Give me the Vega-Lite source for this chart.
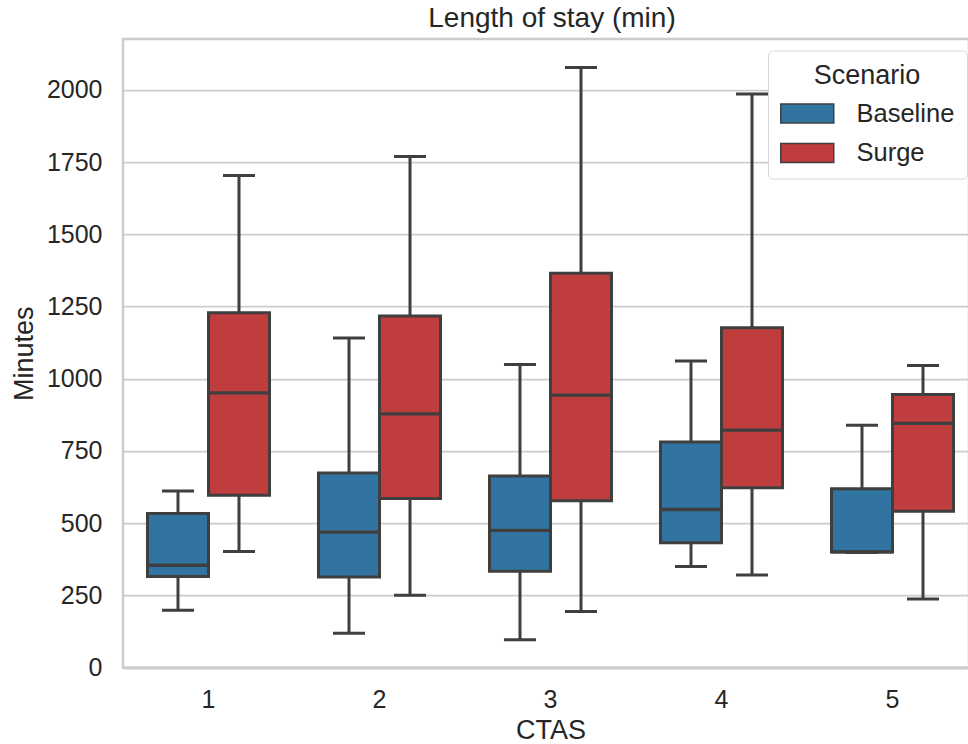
{
  "$schema": "https://vega.github.io/schema/vega-lite/v6.json",
  "autosize": "none",
  "padding": {"left": 123, "top": 39, "right": 0, "bottom": 76.5},
  "width": 846,
  "height": 628.5,
  "background": "white",
  "title": {"text": "Length of stay (min)", "fontSize": 28, "font": "Liberation Sans", "fontWeight": "normal", "color": "#262626", "frame": "group", "anchor": "middle", "dx": 6, "baseline": "alphabetic", "offset": 10, "dy": 26},
  "config": {
    "view": {"stroke": "#cccccc", "strokeWidth": 2.5},
    "font": "Liberation Sans"
  },
  "data": {"values": [
    {"CTAS": "1", "Scenario": "Baseline", "min": 198, "q1": 315, "median": 354, "q3": 533, "max": 611},
    {"CTAS": "1", "Scenario": "Surge", "min": 402, "q1": 596, "median": 951, "q3": 1228, "max": 1703},
    {"CTAS": "2", "Scenario": "Baseline", "min": 119, "q1": 313, "median": 469, "q3": 673, "max": 1141},
    {"CTAS": "2", "Scenario": "Surge", "min": 250, "q1": 585, "median": 878, "q3": 1217, "max": 1769},
    {"CTAS": "3", "Scenario": "Baseline", "min": 96, "q1": 333, "median": 475, "q3": 663, "max": 1049},
    {"CTAS": "3", "Scenario": "Surge", "min": 194, "q1": 577, "median": 943, "q3": 1365, "max": 2077},
    {"CTAS": "4", "Scenario": "Baseline", "min": 350, "q1": 432, "median": 547, "q3": 781, "max": 1061},
    {"CTAS": "4", "Scenario": "Surge", "min": 320, "q1": 622, "median": 822, "q3": 1176, "max": 1986},
    {"CTAS": "5", "Scenario": "Baseline", "min": 398, "q1": 400, "median": 400, "q3": 619, "max": 839},
    {"CTAS": "5", "Scenario": "Surge", "min": 237, "q1": 541, "median": 845, "q3": 945, "max": 1046}
  ]},
  "encoding": {
    "x": {
      "field": "CTAS", "type": "ordinal",
      "scale": {"range": [0, 855], "paddingInner": 0.2865, "paddingOuter": 0.14325},
      "axis": {"title": "CTAS", "labelAngle": 0, "ticks": false, "tickSize": 0, "domain": false, "grid": false,
        "labelFontSize": 25, "labelColor": "#262626", "labelPadding": 19.5,
        "titleFontSize": 27, "titleFontWeight": "normal", "titleColor": "#262626", "titlePadding": 5}
    },
    "xOffset": {"field": "Scenario", "type": "nominal", "scale": {"paddingInner": 0, "paddingOuter": 0}}
  },
  "layer": [
    {
      "mark": {"type": "rule", "color": "#3f3f3f", "strokeWidth": 3},
      "encoding": {
        "y": {"field": "min", "type": "quantitative",
          "scale": {"domain": [0, 2176], "nice": false, "zero": true},
          "axis": {"title": "Minutes", "values": [0, 250, 500, 750, 1000, 1250, 1500, 1750, 2000], "format": "d",
            "grid": true, "gridColor": "#cccccc", "gridWidth": 1.75, "domain": false, "ticks": false, "tickSize": 0,
            "labelFontSize": 25, "labelColor": "#262626", "labelPadding": 21,
            "titleFontSize": 27, "titleFontWeight": "normal", "titleColor": "#262626", "titlePadding": 8}},
        "y2": {"field": "max"}
      }
    },
    {
      "mark": {"type": "bar", "stroke": "#3f3f3f", "strokeWidth": 3},
      "encoding": {
        "y": {"field": "q1", "type": "quantitative"},
        "y2": {"field": "q3"},
        "fill": {"field": "Scenario", "type": "nominal",
          "scale": {"domain": ["Baseline", "Surge"], "range": ["#3274a1", "#c03d3e"]},
          "legend": {"orient": "none", "legendX": 645, "legendY": 11.5, "title": "Scenario",
            "titleFontSize": 27, "titleFontWeight": "normal", "titleColor": "#262626", "titleAnchor": "middle",
            "labelFontSize": 25.5, "labelColor": "#262626",
            "symbolType": "M-2,-0.717H2V0.717H-2Z", "symbolSize": 702.25, "symbolOffset": 13.25,
            "symbolStrokeColor": "#3f3f3f", "symbolStrokeWidth": 1.5,
            "labelOffset": 35.25, "rowPadding": 11.5, "padding": 12,
            "fillColor": "white", "strokeColor": "#d6d6d6", "cornerRadius": 5, "titlePadding": 10}
        }
      }
    },
    {
      "mark": {"type": "tick", "color": "#3f3f3f", "size": 61, "thickness": 3.3, "opacity": 1},
      "encoding": {"y": {"field": "median", "type": "quantitative"}}
    },
    {
      "mark": {"type": "tick", "color": "#3f3f3f", "size": 32, "thickness": 3, "opacity": 1},
      "encoding": {"y": {"field": "min", "type": "quantitative"}}
    },
    {
      "mark": {"type": "tick", "color": "#3f3f3f", "size": 32, "thickness": 3, "opacity": 1},
      "encoding": {"y": {"field": "max", "type": "quantitative"}}
    }
  ]
}
